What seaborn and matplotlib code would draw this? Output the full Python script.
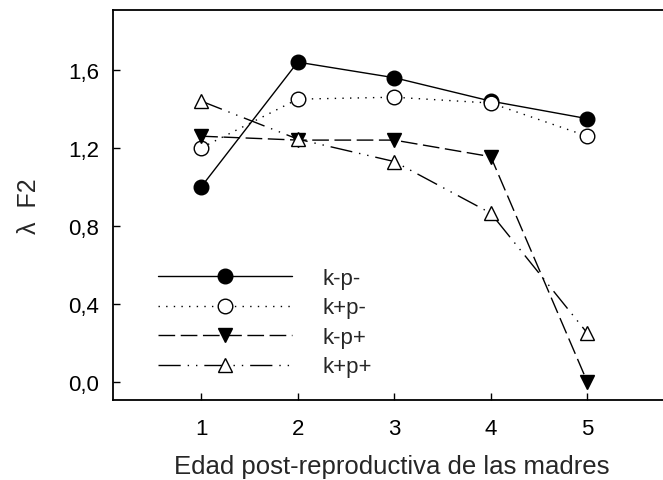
import matplotlib
matplotlib.use("Agg")
import matplotlib.pyplot as plt
import seaborn as sns
import pandas as pd

# Post-reproductive age of the mothers
edad = [1, 2, 3, 4, 5]

# Lambda F2 per treatment
k_m_p_m = [1.00, 1.64, 1.56, 1.44, 1.35]   # k-p-
k_p_p_m = [1.20, 1.45, 1.46, 1.43, 1.26]   # k+p-
k_m_p_p = [1.26, 1.24, 1.24, 1.155, 0.00]  # k-p+
k_p_p_p = [1.44, 1.245, 1.13, 0.865, 0.25]  # k+p+

labels = ["k-p-", "k+p-", "k-p+", "k+p+"]
yticks = [0.0, 0.4, 0.8, 1.2, 1.6]
ytick_labels = ["0,0", "0,4", "0,8", "1,2", "1,6"]

sns.set_theme(style="ticks")
plt.rcParams["font.family"] = ["Liberation Sans", "DejaVu Sans"]

fig = plt.figure(figsize=(6.63, 4.81), dpi=100)
ax = fig.add_axes([0.171, 0.166, 0.84, 0.811])

styles = [
    dict(marker="o", markerfacecolor="black", linestyle="-"),
    dict(marker="o", markerfacecolor="white", linestyle=(0, (1, 4.5))),
    dict(marker="v", markerfacecolor="black", linestyle=(0, (12, 4))),
    dict(marker="^", markerfacecolor="white", linestyle=(0, (16, 5, 1, 5, 1, 5))),
]
series = [k_m_p_m, k_p_p_m, k_m_p_p, k_p_p_p]

for vals, lab, st in zip(series, labels, styles):
    df = pd.DataFrame({"edad": edad, "lam": vals})
    sns.lineplot(data=df, x="edad", y="lam", ax=ax, color="black",
                 linewidth=1.0, markersize=10.5, markeredgecolor="black",
                 markeredgewidth=1.0, label=lab, **st)

ax.set_xlim(0.09, 5.86)
ax.set_ylim(-0.094, 1.907)
ax.set_xticks(edad)
ax.set_xticklabels([str(v) for v in edad])
ax.set_yticks(yticks)
ax.set_yticklabels(ytick_labels)
ax.tick_params(direction="in", length=5, width=1, labelsize=16, colors="black", pad=10)
ax.tick_params(axis="x", pad=13)

for s in ["left", "top", "bottom"]:
    ax.spines[s].set_linewidth(1.3)
    ax.spines[s].set_color("black")
ax.spines["right"].set_visible(False)

ax.set_xlabel("Edad post-reproductiva de las madres", fontsize=18.5, labelpad=11)
ax.set_ylabel("λ  F2", fontsize=18, labelpad=20)

handles = ax.get_lines()[:4]
ax.legend(handles, labels, loc="upper left", bbox_to_anchor=(0.045, 0.39),
          frameon=False, fontsize=16, handlelength=6.0, handletextpad=1.4,
          labelspacing=0.38, numpoints=1)

fig.savefig("out.png", dpi=100)
